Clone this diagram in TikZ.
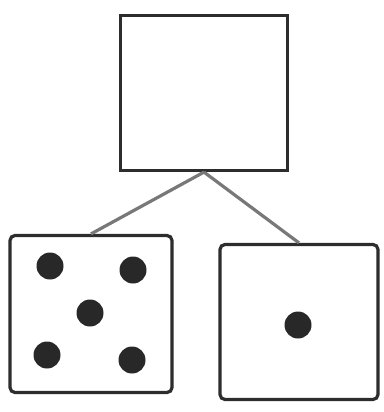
\documentclass[tikz,border=0pt]{standalone}
\usepackage{tikz}
\usetikzlibrary{positioning}
\definecolor{scanink}{RGB}{45,45,45}
\definecolor{linkgray}{RGB}{120,120,120}
\tikzset{facebox/.style={draw=scanink,line width=3.2pt,inner sep=0pt},
 diebox/.style={facebox,rounded corners=5pt},
 pip/.style={circle,fill=scanink!90!black,inner sep=0pt,minimum size=27pt},
 link/.style={draw=linkgray,line width=3.2pt}}

\begin{document}
\begin{tikzpicture}[x=1pt,y=-1pt]
\useasboundingbox (0,0) rectangle (383,412);
\node[facebox,minimum width=167pt,minimum height=155pt] (blank) at (204,93) {};
\node[diebox,minimum width=162pt,minimum height=157pt] (five) at (91,314) {};
\node[diebox,minimum width=158pt,minimum height=155pt] (one) at (299,322) {};
\draw[link] (blank.south) -- (five.north);
\draw[link] (blank.south) -- (one.north);
% five pips
\node[pip] (p1) at (50,266) {};
\node[pip] (p2) at (133,270) {};
\node[pip] (p3) at (90,313) {};
\node[pip] (p4) at (47,355) {};
\node[pip] (p5) at (132,360) {};
% one pip
\node[pip] (q1) at (298,325) {};
\end{tikzpicture}
\end{document}
